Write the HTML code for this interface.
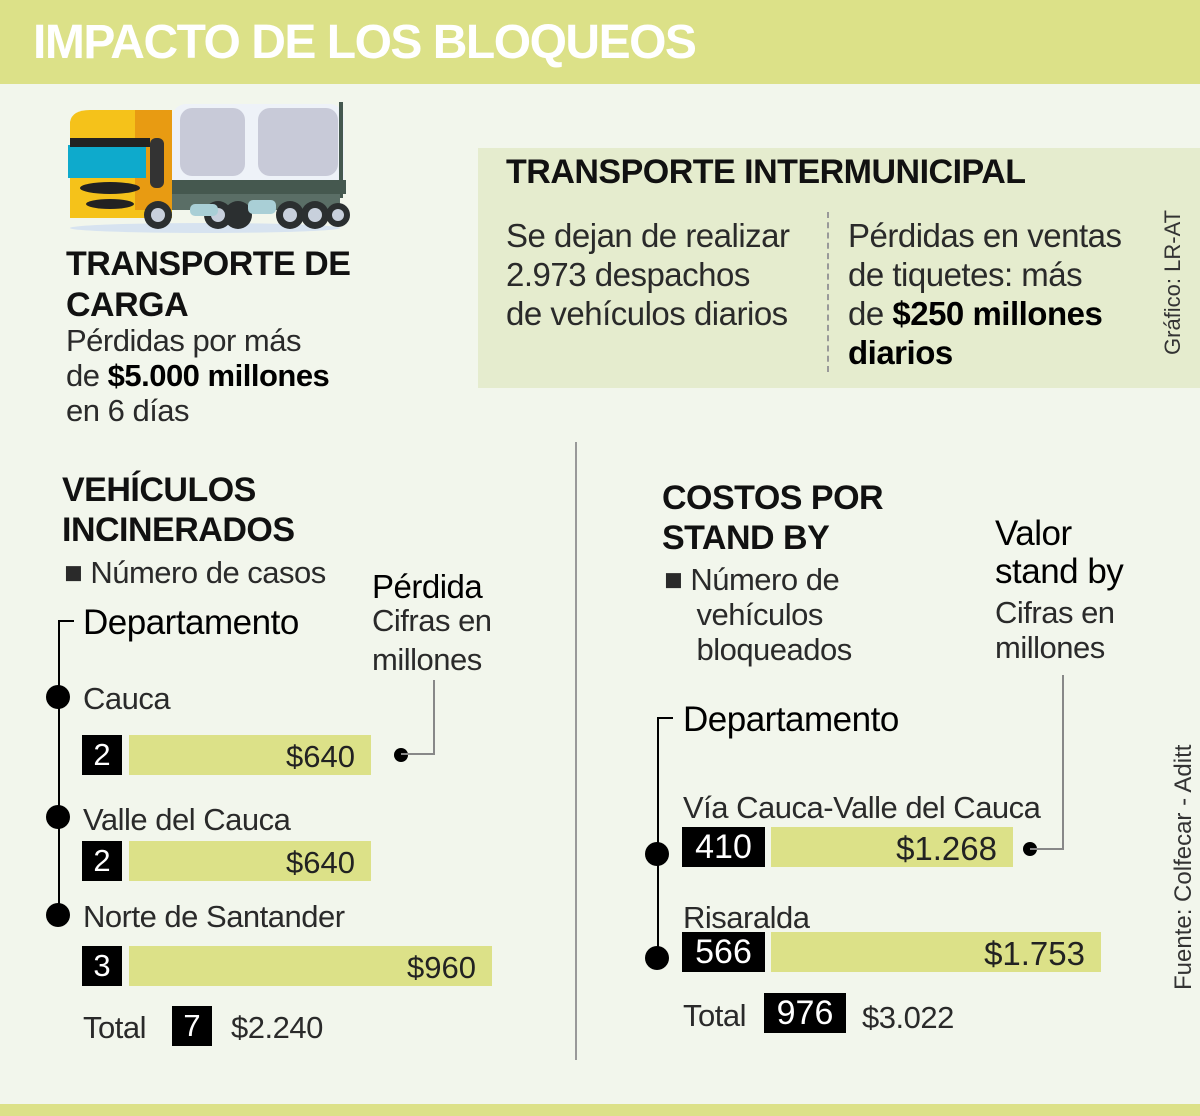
<!DOCTYPE html>
<html><head><meta charset="utf-8"><style>
body{margin:0;width:1200px;height:1116px;background:#f2f6ec;position:relative;overflow:hidden;font-family:"Liberation Sans",sans-serif;color:#111}
.a{position:absolute;white-space:nowrap}
.b{font-weight:bold}
.t{font-size:31px;line-height:39px;color:#2a2a2a;letter-spacing:-0.5px}
.h{font-size:34px;font-weight:bold;line-height:40px;letter-spacing:-0.5px}
.bar{position:absolute;background:#dce188;height:40px;font-size:31px;line-height:44px;text-align:right;box-sizing:border-box;padding-right:16px;color:#222}
.blk{position:absolute;background:#000;color:#fff;font-size:31px;line-height:40px;height:40px;text-align:center}
.dot{position:absolute;width:24px;height:24px;border-radius:50%;background:#000}
.sdot{position:absolute;width:14px;height:14px;border-radius:50%;background:#000}
</style></head><body>
<div class="a" style="left:0;top:0;width:1200px;height:84px;background:#dce188"></div>
<div class="a b" style="left:33px;top:15px;font-size:48px;color:#fff;letter-spacing:-1.5px">IMPACTO DE LOS BLOQUEOS</div>
<div class="a" style="left:0;top:1104px;width:1200px;height:12px;background:#dce188"></div>

<svg class="a" style="left:60px;top:100px" width="290" height="135" viewBox="0 0 290 135">
<ellipse cx="145" cy="128" rx="135" ry="5" fill="#d7e3f0"/>
<rect x="112" y="4" width="172" height="92" rx="14" fill="#eef2f8"/>
<rect x="120" y="8" width="65" height="68" rx="12" fill="#c8cad8"/>
<rect x="198" y="8" width="80" height="68" rx="12" fill="#c8cad8"/>
<rect x="110" y="80" width="176" height="14" fill="#45584f"/>
<rect x="279" y="2" width="4" height="96" fill="#45584f"/>
<rect x="110" y="94" width="170" height="16" fill="#5a6e66"/>
<path d="M10 22 Q12 10 30 10 L112 10 L112 118 L10 118 Z" fill="#f5c21a"/>
<rect x="75" y="10" width="37" height="100" fill="#e89b12"/>
<rect x="8" y="45" width="78" height="33" fill="#0eaacc"/>
<rect x="10" y="38" width="80" height="9" fill="#222"/>
<ellipse cx="50" cy="88" rx="30" ry="6" fill="#222"/>
<ellipse cx="50" cy="104" rx="24" ry="5" fill="#222"/>
<rect x="90" y="38" width="14" height="50" rx="6" fill="#333"/>
<g fill="#2b2f30"><circle cx="98" cy="115" r="14"/><circle cx="158" cy="115" r="14"/><circle cx="178" cy="115" r="14"/><circle cx="230" cy="115" r="14"/><circle cx="255" cy="115" r="14"/><circle cx="278" cy="115" r="12"/></g>
<g fill="#c8d0dc"><circle cx="98" cy="115" r="7"/><circle cx="158" cy="115" r="7"/><circle cx="230" cy="115" r="7"/><circle cx="255" cy="115" r="7"/><circle cx="278" cy="115" r="6"/></g>
<rect x="130" y="104" width="28" height="12" rx="5" fill="#a9cfd6"/><rect x="188" y="100" width="28" height="14" rx="5" fill="#a9cfd6"/>
</svg>

<div class="a h" style="left:66px;top:244px;line-height:41px">TRANSPORTE DE<br>CARGA</div>
<div class="a t" style="left:66px;top:323px;line-height:35px">Pérdidas por más<br>de <b style="color:#000">$5.000 millones</b><br>en 6 días</div>

<div class="a" style="left:478px;top:148px;width:722px;height:240px;background:#e5ecce"></div>
<div class="a h" style="left:506px;top:152px">TRANSPORTE INTERMUNICIPAL</div>
<div class="a t" style="left:506px;top:216px;font-size:33px">Se dejan de realizar<br>2.973 despachos<br>de vehículos diarios</div>
<div class="a" style="left:827px;top:212px;height:160px;border-left:2px dashed #999"></div>
<div class="a t" style="left:848px;top:216px;font-size:33px">Pérdidas en ventas<br>de tiquetes: más<br>de <b style="color:#000">$250 millones<br>diarios</b></div>
<div class="a" style="left:1160px;top:355px;transform:rotate(-90deg);transform-origin:0 0;font-size:22px;color:#333">Gráfico: LR-AT</div>

<div class="a" style="left:575px;top:442px;height:618px;border-left:2px solid #999"></div>

<div class="a h" style="left:62px;top:470px">VEHÍCULOS<br>INCINERADOS</div>
<div class="a t" style="left:64px;top:553px">■ Número de casos</div>
<div class="a t" style="left:372px;top:567px;font-size:33px;color:#000">Pérdida</div>
<div class="a t" style="left:372px;top:601px">Cifras en<br>millones</div>
<div class="a t" style="left:83px;top:603px;font-size:35px;color:#000">Departamento</div>
<div class="a" style="left:58px;top:620px;width:16px;height:290px;border-left:2px solid #000;border-top:2px solid #000;box-sizing:border-box"></div>
<div class="dot" style="left:46px;top:685px"></div>
<div class="dot" style="left:46px;top:805px"></div>
<div class="dot" style="left:46px;top:903px"></div>
<div class="a t" style="left:83px;top:679px">Cauca</div>
<div class="a t" style="left:83px;top:800px">Valle del Cauca</div>
<div class="a t" style="left:83px;top:897px">Norte de Santander</div>
<div class="blk" style="left:82px;top:735px;width:40px">2</div>
<div class="bar" style="left:129px;top:735px;width:242px">$640</div>
<div class="blk" style="left:82px;top:841px;width:40px">2</div>
<div class="bar" style="left:129px;top:841px;width:242px">$640</div>
<div class="blk" style="left:82px;top:946px;width:40px">3</div>
<div class="bar" style="left:129px;top:946px;width:363px">$960</div>
<div class="sdot" style="left:394px;top:748px"></div>
<div class="a" style="left:401px;top:680px;width:34px;height:75px;border-right:2px solid #888;border-bottom:2px solid #888;box-sizing:border-box"></div>
<div class="a t" style="left:83px;top:1008px">Total</div>
<div class="blk" style="left:172px;top:1006px;width:40px">7</div>
<div class="a t" style="left:231px;top:1008px">$2.240</div>

<div class="a h" style="left:662px;top:478px">COSTOS POR<br>STAND BY</div>
<div class="a t" style="left:664px;top:562px;line-height:35px">■ Número de<br>&nbsp;&nbsp;&nbsp;&nbsp;vehículos<br>&nbsp;&nbsp;&nbsp;&nbsp;bloqueados</div>
<div class="a t" style="left:995px;top:515px;font-size:35px;color:#000;line-height:38px">Valor<br>stand by</div>
<div class="a t" style="left:995px;top:595px;line-height:35px">Cifras en<br>millones</div>
<div class="a t" style="left:683px;top:700px;font-size:35px;color:#000">Departamento</div>
<div class="a" style="left:657px;top:717px;width:16px;height:243px;border-left:2px solid #000;border-top:2px solid #000;box-sizing:border-box"></div>
<div class="dot" style="left:645px;top:842px"></div>
<div class="dot" style="left:645px;top:946px"></div>
<div class="a t" style="left:683px;top:788px">Vía Cauca-Valle del Cauca</div>
<div class="blk" style="left:682px;top:827px;width:83px;font-size:34px">410</div>
<div class="bar" style="left:771px;top:827px;width:242px;font-size:33px">$1.268</div>
<div class="a t" style="left:683px;top:898px">Risaralda</div>
<div class="blk" style="left:682px;top:932px;width:83px;font-size:34px">566</div>
<div class="bar" style="left:771px;top:932px;width:330px;font-size:33px">$1.753</div>
<div class="sdot" style="left:1023px;top:842px"></div>
<div class="a" style="left:1030px;top:675px;width:34px;height:175px;border-right:2px solid #888;border-bottom:2px solid #888;box-sizing:border-box"></div>
<div class="a t" style="left:683px;top:996px">Total</div>
<div class="blk" style="left:764px;top:993px;width:82px;font-size:34px">976</div>
<div class="a t" style="left:862px;top:998px">$3.022</div>
<div class="a" style="left:1198px;top:990px;transform:rotate(-90deg);transform-origin:0 0;font-size:24px;color:#333;line-height:28px;margin-left:-28px">Fuente: Colfecar - Aditt</div>
</body></html>
